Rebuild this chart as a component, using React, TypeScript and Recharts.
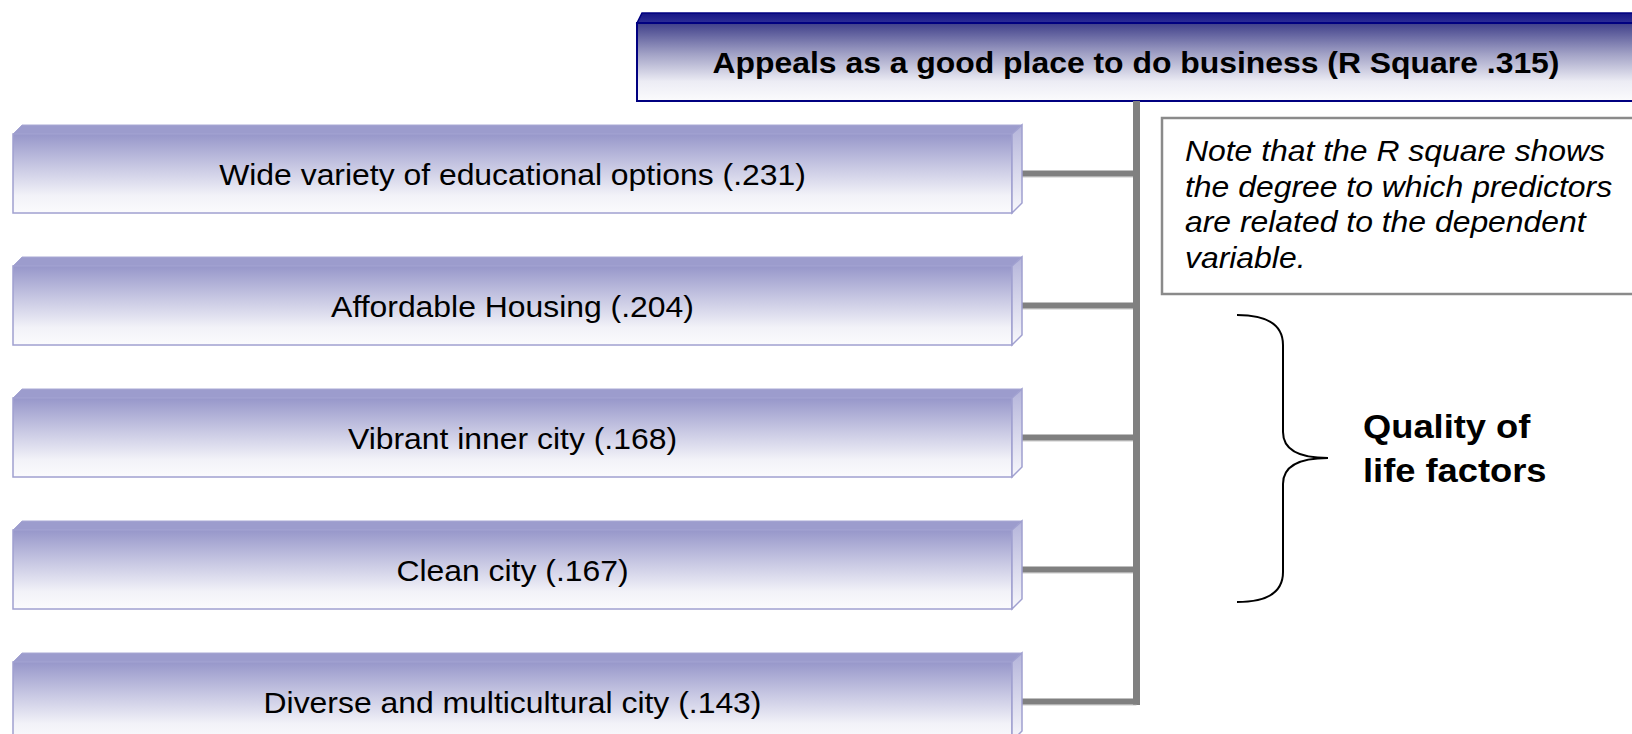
import { ComposedChart, Bar, XAxis, YAxis, Customized } from "recharts";

// predictors of "appeals as a good place to do business"
const factorNames = [
  "Wide variety of educational options",
  "Affordable Housing",
  "Vibrant inner city",
  "Clean city",
  "Diverse and multicultural city",
];
const factorCoefficients = [0.231, 0.204, 0.168, 0.167, 0.143];
const dependentName = "Appeals as a good place to do business";
const rSquare = 0.315;
const noteLines = [
  "Note that the R square shows",
  "the degree to which predictors",
  "are related to the dependent",
  "variable.",
];
const groupLabelLines = ["Quality of", "life factors"];

const W = 1632;
const H = 734;
const FONT = '"Liberation Sans", Arial, Helvetica, sans-serif';
const STRETCH = 1.1; // the slide text is a bit wide
const BOX_LEFT = 13;
const BOX_RIGHT = 1022;
const BEVEL = 10;
const ROW_STEP = 132;
const TRUNK_X = 1136.5;
const TITLE_BOTTOM = 101;

const fmt = (v: number) => `(${v.toFixed(3).replace(/^0/, "")})`;

const rows = factorNames.map((name, i) => ({
  name,
  label: `${name} ${fmt(factorCoefficients[i])}`,
}));

function FactorBox(props: any) {
  const { x, y, width, height, index, payload } = props;
  const r = x + width;
  const faceR = r - BEVEL;
  const faceTop = y + BEVEL - 1;
  const bottom = y + height;
  const mid = (faceTop + bottom) / 2;
  const trunkTop = index === 0 ? TITLE_BOTTOM : mid - ROW_STEP;
  return (
    <g>
      <line x1={TRUNK_X} x2={TRUNK_X} y1={trunkTop} y2={mid + 3.5} stroke="#808080" strokeWidth={7} />
      <line x1={r} x2={TRUNK_X} y1={mid + 3.5} y2={mid + 3.5} stroke="#c8c8c8" strokeWidth={1} />
      <line x1={r} x2={TRUNK_X} y1={mid} y2={mid} stroke="#808080" strokeWidth={6} />
      <polygon
        points={`${x},${faceTop} ${x + BEVEL - 1},${y} ${r},${y} ${faceR},${faceTop}`}
        fill="#9c9ccd"
        stroke="#a8a8d4"
        strokeWidth={1}
      />
      <rect x={x} y={faceTop} width={faceR - x} height={bottom - faceTop} fill="url(#factorFace)" stroke="#a0a0d0" strokeWidth={1.5} />
      <polygon
        points={`${faceR},${faceTop} ${r},${y} ${r},${bottom - BEVEL} ${faceR},${bottom}`}
        fill="url(#factorSide)"
        stroke="#a0a0d0"
        strokeWidth={1.5}
      />
      <text
        transform={`translate(${(x + faceR) / 2},${mid + 1}) scale(${STRETCH},1)`}
        textAnchor="middle"
        dominantBaseline="central"
        fontFamily={FONT}
        fontSize={29}
        fill="#000"
      >
        {payload.label}
      </text>
    </g>
  );
}

function Decorations() {
  return (
    <g>
      <defs>
        <linearGradient id="factorFace" x1="0" y1="0" x2="0" y2="1">
          <stop offset="0%" stopColor="#9797ca" />
          <stop offset="40%" stopColor="#c6c6e2" />
          <stop offset="78%" stopColor="#f2f2f8" />
          <stop offset="100%" stopColor="#fbfbfd" />
        </linearGradient>
        <linearGradient id="factorSide" x1="0" y1="0" x2="0" y2="1">
          <stop offset="0%" stopColor="#b4b4da" />
          <stop offset="100%" stopColor="#f8f8fc" />
        </linearGradient>
        <linearGradient id="titleFace" x1="0" y1="0" x2="0" y2="1">
          <stop offset="0%" stopColor="#40408a" />
          <stop offset="40%" stopColor="#a2a2c6" />
          <stop offset="75%" stopColor="#ececf4" />
          <stop offset="100%" stopColor="#fbfbfd" />
        </linearGradient>
        <linearGradient id="titleBevel" x1="0" y1="0" x2="0" y2="1">
          <stop offset="0%" stopColor="#151585" />
          <stop offset="100%" stopColor="#2e2e96" />
        </linearGradient>
      </defs>

      {/* dependent variable */}
      <polygon points={`637,23 642,13 ${W + 20},13 ${W + 20},23`} fill="url(#titleBevel)" stroke="#000080" strokeWidth={1.5} />
      <rect x={637} y={23} width={W - 637 + 20} height={TITLE_BOTTOM - 23} fill="url(#titleFace)" stroke="#000080" strokeWidth={2} />
      <text
        transform={`translate(1136,63) scale(${STRETCH},1)`}
        textAnchor="middle"
        dominantBaseline="central"
        fontFamily={FONT}
        fontSize={29}
        fontWeight="bold"
        fill="#000"
      >
        {`${dependentName} (R Square ${rSquare.toFixed(3).replace(/^0/, "")})`}
      </text>

      {/* note */}
      <rect x={1162} y={118} width={W - 1162 + 20} height={176} fill="#fff" stroke="#8a8a8a" strokeWidth={2.5} />
      {noteLines.map((t, i) => (
        <text
          key={t}
          transform={`translate(1185,${161 + i * 35.5}) scale(${STRETCH},1)`}
          fontFamily={FONT}
          fontSize={29}
          fontStyle="italic"
          fill="#000"
        >
          {t}
        </text>
      ))}

      {/* brace */}
      <path
        d="M1237,315 Q1283,315 1283,345 L1283,432 Q1283,458 1328,458 Q1283,458 1283,484 L1283,572 Q1283,602 1237,602"
        fill="none"
        stroke="#000"
        strokeWidth={2}
      />
      {groupLabelLines.map((t, i) => (
        <text
          key={t}
          transform={`translate(1363,${438 + i * 44}) scale(${STRETCH},1)`}
          fontFamily={FONT}
          fontSize={33}
          fontWeight="bold"
          fill="#000"
        >
          {t}
        </text>
      ))}
    </g>
  );
}

export default function App() {
  return (
    <div style={{ position: "absolute", left: 0, top: 0, width: W, height: H, background: "#fff" }}>
      <ComposedChart
        width={W}
        height={H}
        data={rows}
        layout="vertical"
        margin={{ top: 103, right: 0, bottom: -29, left: 0 }}
      >
        <XAxis type="number" domain={[0, W]} hide allowDataOverflow />
        <YAxis type="category" dataKey="name" hide width={0} />
        <Bar
          dataKey={() => [BOX_LEFT, BOX_RIGHT]}
          barSize={88}
          shape={<FactorBox />}
          isAnimationActive={false}
        />
        <Customized component={Decorations} />
      </ComposedChart>
    </div>
  );
}
